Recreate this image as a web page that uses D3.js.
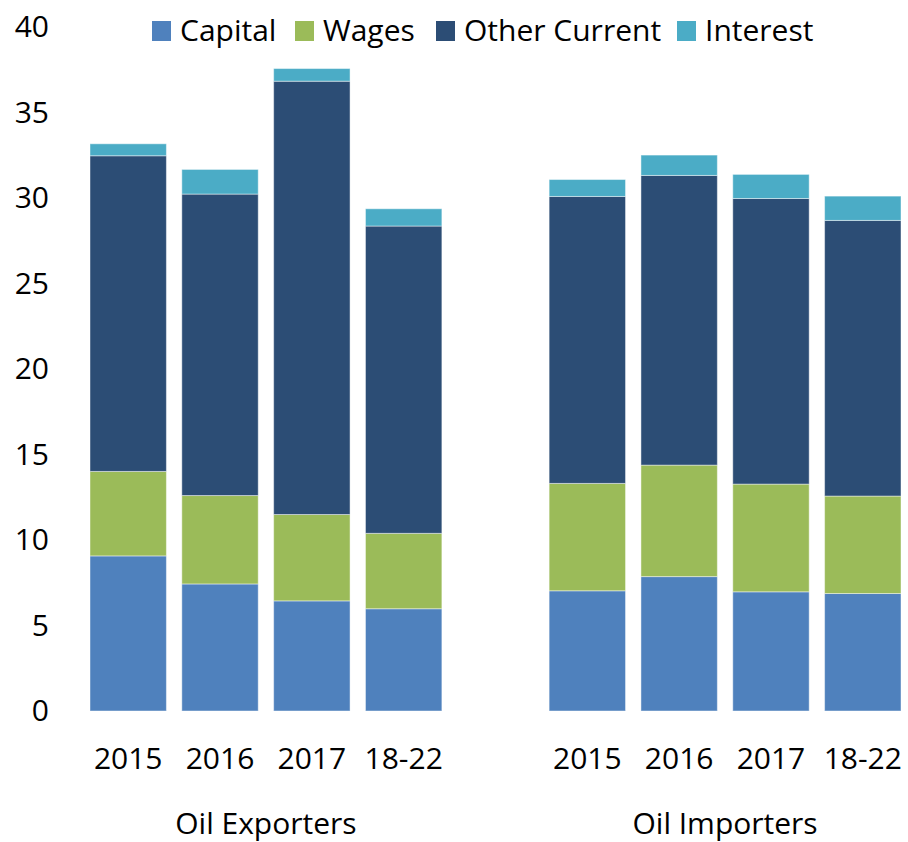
<!DOCTYPE html>
<html>
<head>
<meta charset="utf-8">
<script src="https://cdn.jsdelivr.net/npm/d3@7"></script>
<style>
  body { margin: 0; background: #fff; }
  text { font-family: "Open Sans", "Noto Sans", sans-serif; fill: #000; }
</style>
</head>
<body>
<div id="chart"></div>
<script>
// categories
var groups = ["Oil Exporters", "Oil Importers"];
var periods = ["2015", "2016", "2017", "18-22"];
var seriesNames = ["Capital", "Wages", "Other Current", "Interest"];
var seriesColors = ["#4f81bd", "#9bbb59", "#2c4d75", "#4bacc6"];
var yTicks = [0, 5, 10, 15, 20, 25, 30, 35, 40];

// series values (exporters 2015..18-22, then importers 2015..18-22)
var capital = [9.07, 7.43, 6.44, 5.98, 7.03, 7.86, 6.97, 6.87];
var wages = [4.94, 5.17, 5.05, 4.41, 6.28, 6.52, 6.30, 5.70];
var otherCurrent = [18.46, 17.63, 25.34, 17.97, 16.78, 16.94, 16.70, 16.12];
var interest = [0.70, 1.44, 0.74, 1.01, 0.99, 1.19, 1.41, 1.42];

var width = 908, height = 842;
var fontSize = 30;

// one row per bar, keyed so that an empty slot sits between the two groups
var rows = [];
groups.forEach(function (g, gi) {
    periods.forEach(function (p, pi) {
        var i = gi * periods.length + pi;
        rows.push({
            key: g + "|" + p, group: g, period: p,
            "Capital": capital[i], "Wages": wages[i],
            "Other Current": otherCurrent[i], "Interest": interest[i]
        });
    });
});

var slots = [];
rows.forEach(function (r, i) {
    slots.push(r.key);
    if (i === periods.length - 1) slots.push("gap");
});

var x = d3.scaleBand()
    .domain(slots)
    .range([90, 901])
    .paddingInner(0.168)
    .paddingOuter(0);

var y = d3.scaleLinear()
    .domain([0, 40])
    .range([711, 27]);

var stack = d3.stack().keys(seriesNames);
var stacked = stack(rows);

var svg = d3.select("#chart").append("svg")
    .attr("width", width)
    .attr("height", height);

// bars
svg.selectAll("g.series")
    .data(stacked)
    .enter()
    .append("g")
    .attr("class", "series")
    .attr("fill", function (d, i) { return seriesColors[i]; })
    .selectAll("rect")
    .data(function (d) { return d; })
    .enter()
    .append("rect")
    .attr("x", function (d) { return x(d.data.key); })
    .attr("y", function (d) { return y(d[1]); })
    .attr("width", x.bandwidth())
    .attr("height", function (d) { return y(d[0]) - y(d[1]); })
    .attr("stroke", "#ffffff")
    .attr("stroke-opacity", 0.45)
    .attr("stroke-width", 1);

// y axis labels (no line, no ticks)
var yAxis = d3.axisLeft(y).tickValues(yTicks).tickSize(0).tickPadding(0);
var yg = svg.append("g")
    .attr("transform", "translate(49,0)")
    .call(yAxis);
yg.select(".domain").remove();
yg.selectAll("text")
    .attr("font-size", fontSize)
    .attr("font-family", "'Open Sans', 'Noto Sans', sans-serif")
    .attr("fill", "#000");

// x labels
var xAxis = d3.axisBottom(x)
    .tickValues(rows.map(function (r) { return r.key; }))
    .tickFormat(function (k) { return k.split("|")[1]; })
    .tickSize(0)
    .tickPadding(0);
var xg = svg.append("g")
    .attr("transform", "translate(0,748)")
    .call(xAxis);
xg.select(".domain").remove();
xg.selectAll("text")
    .attr("font-size", fontSize)
    .attr("font-family", "'Open Sans', 'Noto Sans', sans-serif")
    .attr("fill", "#000");

// group labels
svg.selectAll("text.group")
    .data(groups)
    .enter()
    .append("text")
    .attr("class", "group")
    .attr("x", function (g) {
        var first = x(g + "|" + periods[0]);
        var last = x(g + "|" + periods[periods.length - 1]) + x.bandwidth();
        return (first + last) / 2;
    })
    .attr("y", 834)
    .attr("text-anchor", "middle")
    .attr("font-size", fontSize)
    .text(function (g) { return g; });

// legend
var legendX = [152, 295, 436, 677];
var legend = svg.selectAll("g.legend")
    .data(seriesNames)
    .enter()
    .append("g")
    .attr("class", "legend")
    .attr("transform", function (d, i) { return "translate(" + legendX[i] + ",21)"; });

legend.append("rect")
    .attr("width", 19)
    .attr("height", 20)
    .attr("fill", function (d, i) { return seriesColors[i]; });

legend.append("text")
    .attr("x", 28)
    .attr("y", 20)
    .attr("font-size", fontSize)
    .text(function (d) { return d; });
</script>
</body>
</html>
